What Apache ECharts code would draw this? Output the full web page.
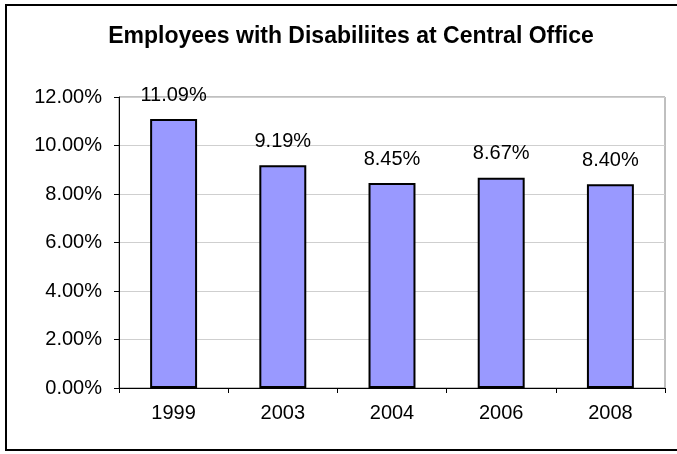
<!DOCTYPE html>
<html>
<head>
<meta charset="utf-8">
<script src="https://cdn.jsdelivr.net/npm/echarts@6/dist/echarts.min.js"></script>
<style>
  html, body { margin: 0; padding: 0; background: #fff; }
  #chart { width: 677px; height: 454px; }
  #frame {
    position: absolute; left: 5px; top: 4px; width: 700px; height: 447px;
    border-top: 2px solid #000; border-left: 2px solid #000; border-bottom: 2px solid #000;
    pointer-events: none; box-sizing: border-box;
  }
</style>
</head>
<body>
<div id="chart"></div>
<div id="frame"></div>
<script>
// Share of employees with disabilities, by survey year (percent)
const years = ['1999', '2003', '2004', '2006', '2008'];
const shares = [11.09, 9.19, 8.45, 8.67, 8.40];
const yTicks = { min: 0, max: 12, step: 2 };

const font = '"Liberation Sans", Arial, sans-serif';
const chart = echarts.init(document.getElementById('chart'), null, { renderer: 'canvas' });

chart.setOption({
  animation: false,
  backgroundColor: '#ffffff',
  title: {
    text: 'Employees with Disabiliites at Central Office',
    left: 346, top: 20, textAlign: 'center',
    textStyle: { fontFamily: font, fontSize: 23, fontWeight: 'bold', color: '#000' }
  },
  grid: {
    left: 119, top: 97, right: 12, bottom: 66,
    show: true, borderColor: '#808080', borderWidth: 1, backgroundColor: '#fff'
  },
  xAxis: {
    type: 'category',
    data: years,
    boundaryGap: true,
    axisLine: { lineStyle: { color: '#000', width: 1 } },
    axisTick: { show: true, length: 5, lineStyle: { color: '#000' } },
    axisLabel: { color: '#000', fontFamily: font, fontSize: 20, margin: 15 }
  },
  yAxis: {
    type: 'value',
    min: yTicks.min, max: yTicks.max, interval: yTicks.step,
    axisLine: { show: true, lineStyle: { color: '#000', width: 1 } },
    axisTick: { show: true, length: 5, lineStyle: { color: '#000' } },
    splitLine: { show: true, lineStyle: { color: '#cfcfcf', width: 1 } },
    axisLabel: {
      color: '#000', fontFamily: font, fontSize: 20, margin: 17,
      formatter: v => v.toFixed(2) + '%'
    }
  },
  series: [{
    type: 'bar',
    data: shares,
    barWidth: '43%',
    itemStyle: { color: '#9999ff', borderColor: '#000', borderWidth: 2 },
    label: {
      show: true, position: 'top', distance: 14,
      color: '#000', fontFamily: font, fontSize: 20,
      formatter: p => p.value.toFixed(2) + '%'
    }
  }]
});
</script>
</body>
</html>
